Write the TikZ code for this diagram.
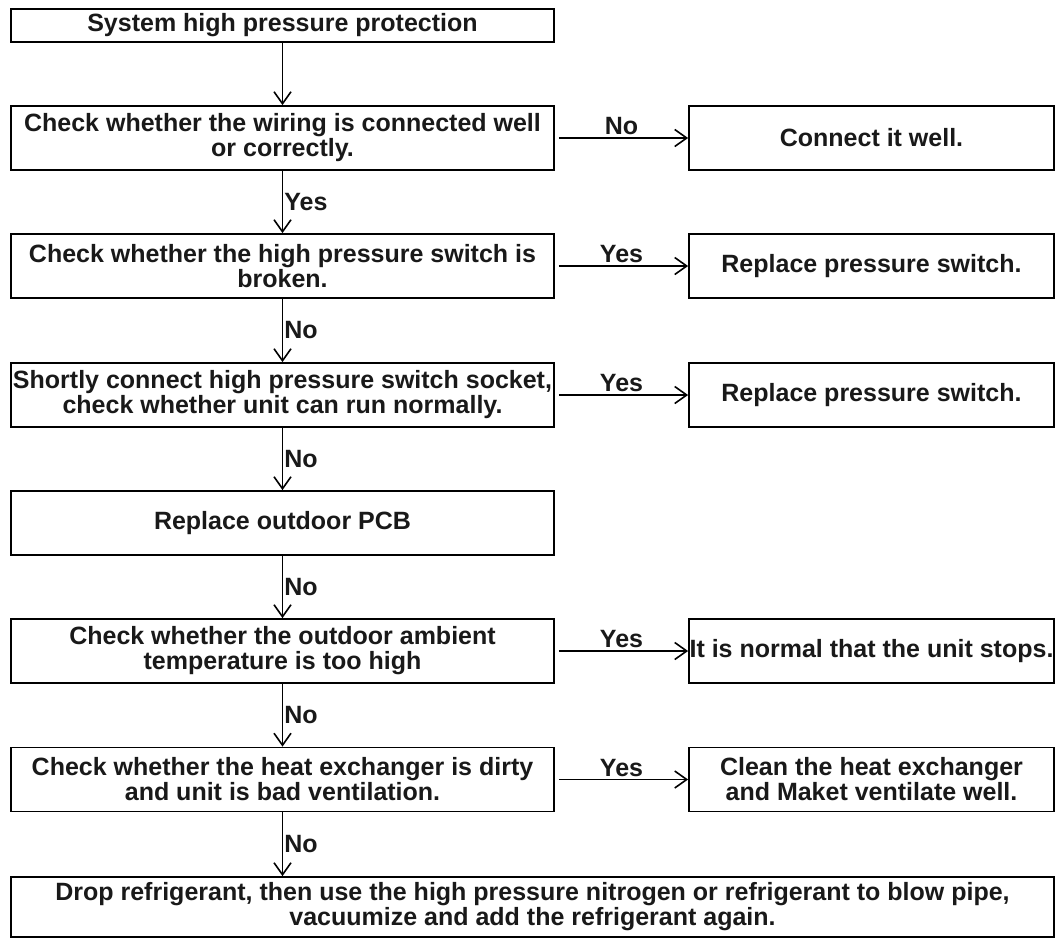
\documentclass[tikz,border=0pt]{standalone}
\usepackage{fontspec}
\setmainfont{Liberation Sans}
\usetikzlibrary{arrows.meta}
\tikzset{
  box/.style={draw, line width=1.8pt, inner sep=0pt, align=center,
    font=\fontsize{25}{25}\selectfont\bfseries, text=black!90},
  leftbox/.style={box, minimum width=543pt, minimum height=64pt},
  rightbox/.style={box, minimum width=365pt, minimum height=64pt},
  flow/.style={line width=1.6pt, -{Straight Barb[length=12pt,width=17pt,line width=1.6pt]}},
  lbl/.style={font=\fontsize{25}{25}\selectfont\bfseries, inner sep=1pt, text=black!90}
}
\begin{document}
\begin{tikzpicture}[x=1pt,y=-1pt]
\useasboundingbox[fill=white] (0,0) rectangle (1056,940);
% left column
\node[box, minimum width=543pt, minimum height=33pt] (a) at (282.5,25.5) {System high pressure protection};
\node[leftbox] (b) at (282.5,138) {Check whether the wiring is connected well\\or correctly.};
\node[leftbox] (c) at (282.5,266) {Check whether the high pressure switch is\\broken.};
\node[leftbox] (d) at (282.5,395) {Shortly connect high pressure switch socket,\\check whether unit can run normally.};
\node[leftbox] (e) at (282.5,523) {Replace outdoor PCB};
\node[leftbox] (f) at (282.5,651) {Check whether the outdoor ambient\\temperature is too high};
\node[leftbox] (g) at (282.5,779.5) {Check whether the heat exchanger is dirty\\and unit is bad ventilation.};
\node[box, minimum width=1043pt, minimum height=60pt] (h) at (532.5,907) {Drop refrigerant, then use the high pressure nitrogen or refrigerant to blow pipe,\\vacuumize and add the refrigerant again.};
% right column
\node[rightbox] (b2) at (871.5,138) {Connect it well.};
\node[rightbox] (c2) at (871.5,266) {Replace pressure switch.};
\node[rightbox] (d2) at (871.5,395) {Replace pressure switch.};
\node[rightbox] (f2) at (871.5,651) {It is normal that the unit stops.};
\node[rightbox] (g2) at (871.5,779.5) {Clean the heat exchanger\\and Maket ventilate well.};
% vertical connectors
\draw[flow] (a) -- (b);
\draw[flow] (b) -- node[lbl, right] {Yes} (c);
\draw[flow] (c) -- node[lbl, right] {No} (d);
\draw[flow] (d) -- node[lbl, right] {No} (e);
\draw[flow] (e) -- node[lbl, right] {No} (f);
\draw[flow] (f) -- node[lbl, right] {No} (g);
\draw[flow] (g.south) -- node[lbl, right] {No} (g.south |- h.north);
% horizontal connectors
\draw[flow, shorten <=4pt] (b) -- node[lbl, above=1pt] {No} (b2);
\draw[flow, shorten <=4pt] (c) -- node[lbl, above=1pt] {Yes} (c2);
\draw[flow, shorten <=4pt] (d) -- node[lbl, above=1pt] {Yes} (d2);
\draw[flow, shorten <=4pt] (f) -- node[lbl, above=1pt] {Yes} (f2);
\draw[flow, shorten <=4pt] (g) -- node[lbl, above=1pt] {Yes} (g2);
\end{tikzpicture}
\end{document}
